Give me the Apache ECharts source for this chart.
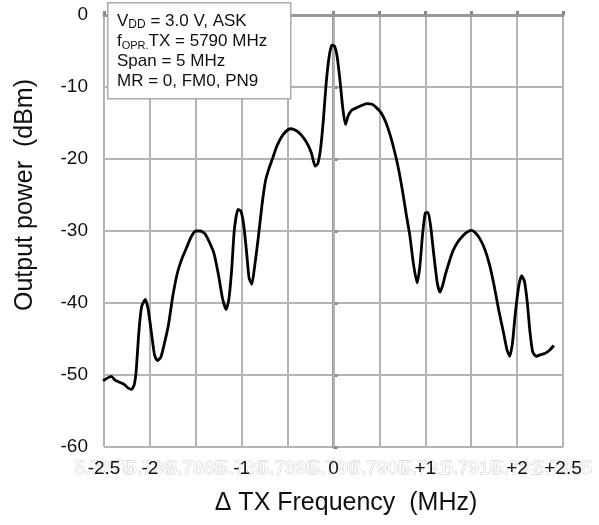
<!DOCTYPE html>
<html>
<head>
<meta charset="utf-8">
<script src="https://cdn.jsdelivr.net/npm/echarts@6/dist/echarts.min.js"></script>
<style>
  html, body { margin: 0; padding: 0; background: #fff; }
  #chart { width: 599px; height: 525px; }
</style>
</head>
<body>
<div id="chart"></div>
<script>
  // spectrum trace: [delta MHz, dBm]
  var trace = [
    [-2.51, -50.8], [-2.46, -50.4], [-2.42, -50.2], [-2.38, -50.7], [-2.33, -51.0],
    [-2.28, -51.3], [-2.24, -51.8], [-2.20, -52.0], [-2.17, -51.3], [-2.15, -49.5],
    [-2.12, -44.0], [-2.09, -40.5], [-2.05, -39.5], [-2.02, -40.8], [-1.99, -43.5],
    [-1.95, -47.2], [-1.92, -48.0], [-1.88, -47.5], [-1.84, -45.5], [-1.80, -43.2],
    [-1.75, -39.0], [-1.70, -35.8], [-1.65, -33.8], [-1.60, -32.3], [-1.55, -30.8],
    [-1.50, -30.0], [-1.45, -30.0], [-1.40, -30.4], [-1.35, -31.6], [-1.30, -33.2],
    [-1.25, -36.3], [-1.21, -39.3], [-1.17, -40.9], [-1.14, -39.5], [-1.11, -35.5],
    [-1.08, -29.8], [-1.04, -27.0], [-1.01, -27.2], [-0.98, -29.0], [-0.95, -32.5],
    [-0.92, -36.5], [-0.89, -37.4], [-0.86, -35.0], [-0.82, -31.0], [-0.78, -26.5],
    [-0.74, -23.0], [-0.70, -21.2], [-0.66, -19.8], [-0.62, -18.3], [-0.57, -17.0],
    [-0.52, -16.2], [-0.47, -15.8], [-0.43, -15.9], [-0.38, -16.3], [-0.33, -17.0],
    [-0.28, -18.0], [-0.24, -19.2], [-0.20, -21.0], [-0.17, -20.6], [-0.14, -18.5],
    [-0.11, -14.5], [-0.08, -9.5], [-0.05, -6.0], [-0.02, -4.2], [0.01, -4.3],
    [0.04, -5.8], [0.07, -9.0], [0.10, -12.8], [0.13, -15.2], [0.16, -14.0],
    [0.20, -13.2], [0.25, -12.9], [0.30, -12.6], [0.36, -12.3], [0.42, -12.4],
    [0.47, -12.9], [0.52, -13.6], [0.57, -14.9], [0.62, -16.8], [0.67, -19.2],
    [0.71, -21.5], [0.75, -24.3], [0.79, -27.5], [0.83, -30.5], [0.87, -34.5],
    [0.91, -37.2], [0.94, -35.0], [0.97, -30.5], [1.00, -27.5], [1.03, -27.4],
    [1.06, -29.5], [1.09, -33.0], [1.13, -37.2], [1.16, -38.5], [1.19, -37.5],
    [1.22, -36.0], [1.26, -34.3], [1.30, -32.8], [1.35, -31.6], [1.40, -30.8],
    [1.45, -30.2], [1.50, -29.9], [1.55, -30.3], [1.60, -31.2], [1.65, -32.6],
    [1.70, -34.7], [1.75, -37.6], [1.80, -41.0], [1.85, -44.0], [1.89, -46.5],
    [1.92, -47.4], [1.95, -45.5], [1.98, -41.5], [2.02, -37.5], [2.05, -36.2],
    [2.08, -37.0], [2.11, -39.8], [2.14, -44.0], [2.17, -46.8], [2.21, -47.4],
    [2.25, -47.2], [2.30, -47.0], [2.35, -46.6], [2.40, -45.9]
  ];

  // x tick labels (only some ticks carry one)
  var xTickValues = [-2.5, -2, -1, 0, 1, 2, 2.5];
  var xTickLabels = ['-2.5', '-2', '-1', '0', '+1', '+2', '+2.5'];
  // faint leftover absolute-frequency labels under the axis (GHz)
  var ghostLabels = ['5.7875', '5.788', '5.7885', '5.789', '5.7895', '5.790',
                     '5.7905', '5.791', '5.7915', '5.792', '5.7925'];

  var boxLines = [
    'V{sc|DD} = 3.0 V, ASK',
    'f{sub|OPR.}TX = 5790 MHz',
    'Span = 5 MHz',
    'MR = 0, FM0, PN9'
  ];

  var font = 'Liberation Sans, Arial, sans-serif';
  var myChart = echarts.init(document.getElementById('chart'));

  var gridPos = { left: 104, right: 36, top: 15, bottom: 78 };

  // ghost labels overlap each other, so split them over two hidden axes
  function ghostAxis(gridIndex, parity) {
    return {
      type: 'value',
      gridIndex: gridIndex,
      min: -2.5, max: 2.5, interval: 0.5,
      z: 1,
      axisLine: { show: false },
      axisTick: { show: false },
      splitLine: { show: false },
      axisLabel: {
        margin: 12,
        fontFamily: font, fontSize: 19,
        color: '#fff', textBorderColor: '#cdcdcd', textBorderWidth: 1,
        showMinLabel: true, showMaxLabel: true,
        formatter: function (v) {
          var i = Math.round((v + 2.5) / 0.5);
          return i % 2 === parity ? (ghostLabels[i] || '') : '';
        }
      }
    };
  }

  myChart.setOption({
    animation: false,
    grid: [
      Object.assign({}, gridPos),
      Object.assign({}, gridPos),
      Object.assign({}, gridPos)
    ],
    xAxis: [{
      type: 'value',
      gridIndex: 0,
      min: -2.5, max: 2.5, interval: 0.5,
      z: 3,
      axisLine: { show: true, lineStyle: { color: '#999', width: 3 } },
      axisTick: { show: true, inside: true, length: 4, lineStyle: { color: '#888', width: 3 } },
      splitLine: { show: true, lineStyle: { color: '#b4b4b4', width: 2 } },
      axisLabel: {
        margin: 12,
        fontFamily: font, fontSize: 19, color: '#111',
        showMinLabel: true, showMaxLabel: true,
        formatter: function (v) {
          for (var i = 0; i < xTickValues.length; i++) {
            if (Math.abs(xTickValues[i] - v) < 1e-6) return xTickLabels[i];
          }
          return '';
        }
      }
    }, ghostAxis(1, 0), ghostAxis(2, 1)],
    yAxis: [{
      type: 'value',
      gridIndex: 0,
      min: -60, max: 0, interval: 10,
      axisLine: { show: true, lineStyle: { color: '#999', width: 3 } },
      axisTick: { show: true, inside: true, length: 4, lineStyle: { color: '#888', width: 3 } },
      splitLine: { show: true, lineStyle: { color: '#b4b4b4', width: 2 } },
      axisLabel: { margin: 16, fontFamily: font, fontSize: 19, color: '#111' }
    }, {
      type: 'value', gridIndex: 1, min: -60, max: 0, show: false
    }, {
      type: 'value', gridIndex: 2, min: -60, max: 0, show: false
    }],
    series: [{
      type: 'line',
      xAxisIndex: 0, yAxisIndex: 0,
      data: trace,
      showSymbol: false,
      smooth: 0.2,
      lineStyle: { color: '#000', width: 2.8 },
      z: 5
    }],
    graphic: [
      {
        type: 'rect', left: 107, top: 2, z: 100,
        shape: { width: 183, height: 96 },
        style: { fill: '#fff', stroke: '#aaa', lineWidth: 1.5 }
      },
      {
        type: 'text', left: 117, top: 11, z: 101,
        style: {
          text: boxLines.join('\n'),
          font: '17px ' + font,
          fill: '#111',
          lineHeight: 20,
          rich: {
            sc: { fontSize: 12, fontFamily: font, fill: '#111', verticalAlign: 'bottom', lineHeight: 15 },
            sub: { fontSize: 11, fontFamily: font, fill: '#111', verticalAlign: 'bottom', lineHeight: 6 }
          }
        }
      },
      {
        type: 'text', x: 25, y: 195, rotation: Math.PI / 2, z: 100,
        style: {
          text: 'Output power  (dBm)',
          font: '25px ' + font, fill: '#111',
          align: 'center', verticalAlign: 'middle'
        }
      },
      {
        type: 'text', x: 346, y: 503, z: 100,
        style: {
          text: '\u0394 TX Frequency  (MHz)',
          font: '25px ' + font, fill: '#111',
          align: 'center', verticalAlign: 'middle'
        }
      }
    ]
  });
</script>
</body>
</html>
